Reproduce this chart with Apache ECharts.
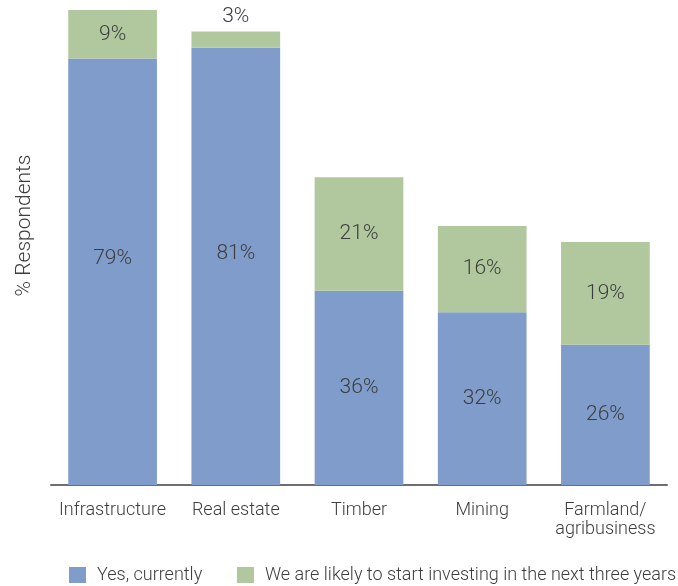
<!DOCTYPE html>
<html>
<head>
<meta charset="utf-8">
<script src="https://cdn.jsdelivr.net/npm/echarts@6/dist/echarts.min.js"></script>
<style>
  html, body { margin: 0; padding: 0; background: #fff; }
  #chart { width: 678px; height: 586px; }
</style>
</head>
<body>
<div id="chart"></div>
<script>
// Asset classes surveyed
const categories = ['Infrastructure', 'Real estate', 'Timber', 'Mining', 'Farmland/\nagribusiness'];
// Share of respondents investing now
const currentValues = [79, 81, 36, 32, 26];
// Share of respondents planning to start within three years
const plannedValues = [9, 3, 21, 16, 19];
const seriesNames = ['Yes, currently', 'We are likely to start investing in the next three years'];

const FONT = 'Roboto, "Liberation Sans", sans-serif';
const TEXT = '#3d3d3d';

const chart = echarts.init(document.getElementById('chart'), null, { renderer: 'canvas' });

const labelBase = {
  show: true,
  position: 'inside',
  formatter: p => p.value + '%',
  color: TEXT,
  fontFamily: FONT,
  fontWeight: 300,
  fontSize: 21
};

// one legend block per series so each key sits at its own x position
const legendBase = {
  bottom: 2,
  padding: 0,
  itemWidth: 17,
  itemHeight: 16,
  icon: 'rect',
  textStyle: { color: TEXT, fontFamily: FONT, fontWeight: 300, fontSize: 18, padding: [0, 0, 0, 6] }
};

chart.setOption({
  animation: false,
  grid: { left: 51, right: 11, top: 10, bottom: 101 },
  legend: [
    Object.assign({ left: 69, data: [seriesNames[0]] }, legendBase),
    Object.assign({ left: 237, data: [seriesNames[1]] }, legendBase)
  ],
  xAxis: {
    type: 'category',
    data: categories,
    axisLine: { lineStyle: { color: '#6d6e71', width: 2 } },
    axisTick: { show: false },
    axisLabel: { interval: 0, color: TEXT, fontFamily: FONT, fontWeight: 300, fontSize: 18, margin: 16, lineHeight: 19 }
  },
  yAxis: {
    type: 'value',
    min: 0,
    max: 88,
    name: '% Respondents',
    nameLocation: 'middle',
    nameGap: 16,
    nameTextStyle: { color: TEXT, fontFamily: FONT, fontWeight: 300, fontSize: 21, padding: [0, 0, 0, 44] },
    axisLine: { show: false },
    axisTick: { show: false },
    axisLabel: { show: false },
    splitLine: { show: false }
  },
  series: [
    {
      name: seriesNames[0],
      type: 'bar',
      stack: 'total',
      barWidth: '72%',
      itemStyle: { color: '#7f9cca' },
      label: labelBase,
      data: currentValues.map((v, i) => i < 2
        ? { value: v, label: { offset: [0, -13] } }
        : v)
    },
    {
      name: seriesNames[1],
      type: 'bar',
      stack: 'total',
      itemStyle: { color: '#b1c89e' },
      label: labelBase,
      data: plannedValues.map((v, i) => i === 1
        ? { value: v, label: { position: 'top', distance: 4 } }
        : v)
    }
  ]
});
</script>
</body>
</html>
